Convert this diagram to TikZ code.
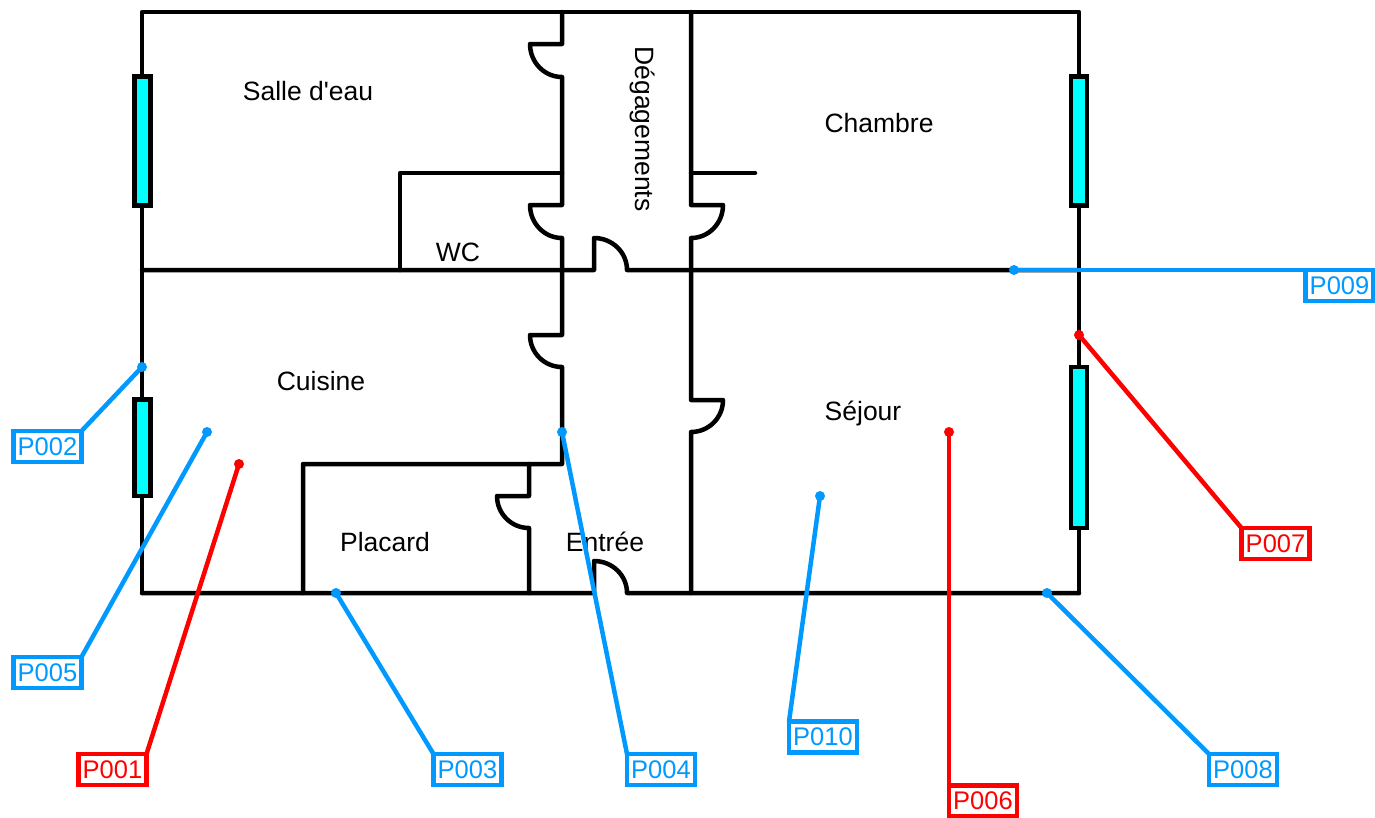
\documentclass[tikz,border=0pt]{standalone}
\usepackage{fontspec}
\setmainfont{Liberation Sans}
\definecolor{pinblue}{HTML}{0099FF}
\definecolor{pinred}{HTML}{FF0000}
\definecolor{glass}{HTML}{00FFFF}
\tikzset{
  wall/.style={line width=4.5,line join=round,line cap=round},
  window/.style={line width=4.5,draw=black,fill=glass},
  room/.style={font=\fontsize{26.5}{30}\selectfont,inner sep=0},
  pintag/.style={font=\fontsize{25.5}{30}\selectfont,line width=4.5,inner sep=0,outer sep=0,
    minimum width=68,minimum height=31,fill=white},
  leader/.style={line width=4.5,line cap=round}
}
\begin{document}
\begin{tikzpicture}[x=1pt,y=-1pt]
  \useasboundingbox (0,0) rectangle (1375,817);
  % outer walls and partitions
  \draw[wall] (142,593) -- (142,12) -- (1079,12) -- (1079,593);
  \draw[wall] (142,270) -- (594,270) -- (594,238) to[out=0,in=90] (627,270) -- (1079,270);
  \draw[wall] (142,593) -- (594,593) -- (594,561) to[out=0,in=90] (627,593) -- (1079,593);
  \draw[wall] (562,12) -- (562,44) -- (530,44) to[out=-90,in=180] (562,77)
    -- (562,205) -- (530,205) to[out=-90,in=180] (562,238)
    -- (562,335) -- (530,335) to[out=-90,in=180] (562,367)
    -- (562,464) -- (303,464) -- (303,593);
  \draw[wall] (691,12) -- (691,205) -- (723,205) to[out=-90,in=0] (691,238)
    -- (691,400) -- (723,400) to[out=-90,in=0] (691,432) -- (691,593);
  \draw[wall] (400,270) -- (400,173) -- (562,173);
  \draw[wall] (691,173) -- (755,173);
  \draw[wall] (529,464) -- (529,496) -- (497,496) to[out=-90,in=180] (529,528) -- (529,593);
  % windows
  \draw[window] (134.5,76.5) rectangle (150.5,205.5);
  \draw[window] (134.5,399.5) rectangle (150.5,496);
  \draw[window] (1071,76.5) rectangle (1087,205.5);
  \draw[window] (1071,367) rectangle (1087,528);
  % rooms
  \node[room] (salle) at (308,91) {Salle d\textquotesingle eau};
  \node[room] (chambre) at (879,123) {Chambre};
  \node[room,rotate=-90] (degagements) at (642,129) {Dégagements};
  \node[room] (wc) at (458,252) {WC};
  \node[room] (cuisine) at (321,381) {Cuisine};
  \node[room] (placard) at (385,542) {Placard};
  \node[room] (entree) at (605,542) {Entrée};
  \node[room] (sejour) at (863,413) {Séjour};
  % pins
  \foreach \tag/\col/\dotx/\doty/\tagx/\tagy/\corner in {
    P001/pinred/239/464/112.5/769.5/north east,
    P002/pinblue/142/367/47.5/446.5/north east,
    P003/pinblue/336/593/467.5/769.5/north west,
    P004/pinblue/562/432/661/769.5/north west,
    P005/pinblue/207/432/47.5/672.5/north east,
    P006/pinred/949/432/983/801/north west,
    P007/pinred/1079/335/1275.5/543.5/north west,
    P008/pinblue/1047/593/1243/769.5/north west,
    P009/pinblue/1014/270/1339.5/285.5/north west,
    P010/pinblue/820/496/823/737/north west}
  {
    \coordinate (dot\tag) at (\dotx,\doty);
    \node[pintag,draw=\col,text=\col] (\tag) at (\tagx,\tagy) {\tag};
    \draw[leader,draw=\col] (dot\tag) -- (\tag.\corner);
    \fill[\col] (dot\tag) circle (5);
  }
\end{tikzpicture}
\end{document}
